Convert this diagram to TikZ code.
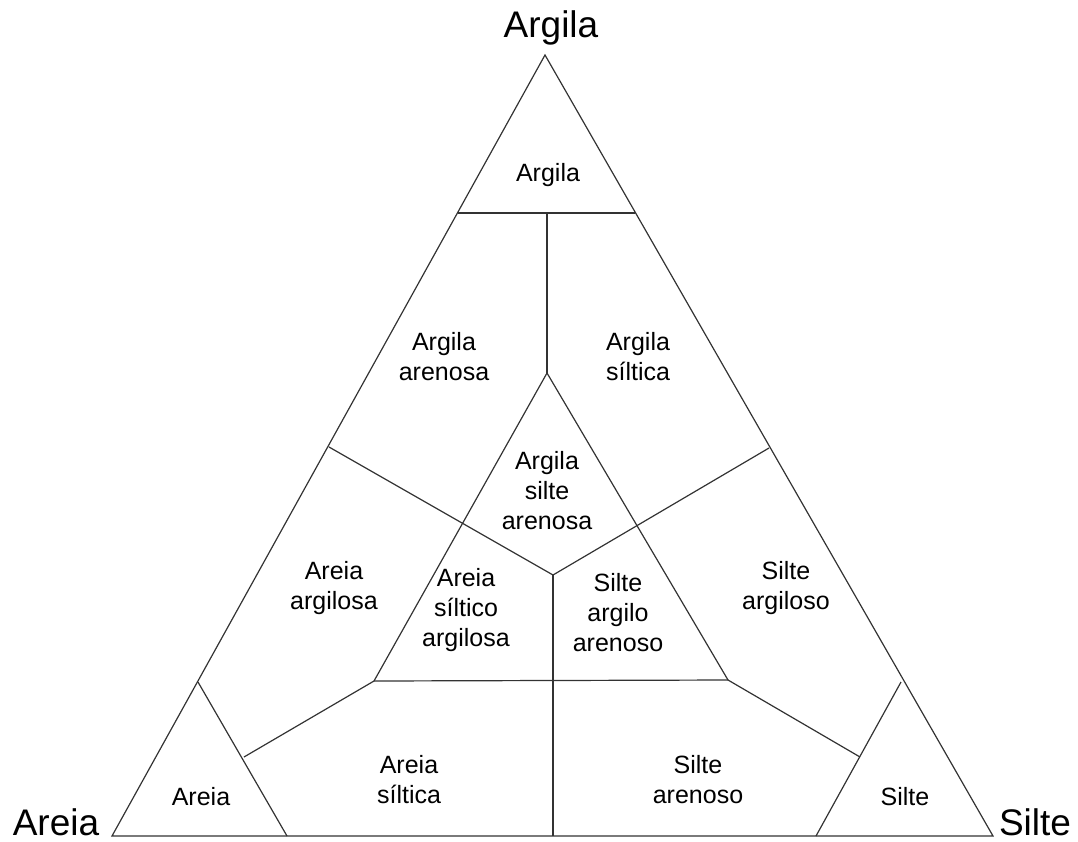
\documentclass[tikz,border=0pt]{standalone}
\usepackage{fontspec}
\setmainfont{Liberation Sans}
\begin{document}
\begin{tikzpicture}[x=1pt,y=-1pt,
  edge/.style={draw=black!80,line width=1.2pt,line join=miter},
  field/.style={align=center,font=\fontsize{25}{30}\selectfont,inner sep=0pt},
  corner/.style={anchor=base,font=\fontsize{37}{44}\selectfont,inner sep=0pt}]
\useasboundingbox (0,0) rectangle (1078,841);
% outer triangle
\coordinate (top) at (545,55);
\coordinate (bl) at (112,836);
\coordinate (br) at (993,836);
% clay corner
\coordinate (cl) at (458,213);
\coordinate (cr) at (635,213);
\coordinate (cm) at (547,213);
% inner points
\coordinate (capex) at (547,373);
\coordinate (j1) at (329,447);
\coordinate (j2) at (769,448);
\coordinate (mid) at (553,575);
\coordinate (midb) at (553,836);
\coordinate (bl2) at (374,681);
\coordinate (br2) at (728,680);
\coordinate (ll) at (244,757);
\coordinate (rr) at (860,757);
% sand and silt corners
\coordinate (sa) at (198,682);
\coordinate (sb) at (287,836);
\coordinate (ta) at (901,682);
\coordinate (tb) at (816,836);

\draw[edge] (top) -- (bl) -- (br) -- cycle;
\draw[edge] (cl) -- (cr);
\draw[edge] (cm) -- (capex);
\draw[edge] (bl2) -- (capex) -- (br2);
\draw[edge] (bl2) -- (br2);
\draw[edge] (j1) -- (mid) -- (j2);
\draw[edge] (mid) -- (midb);
\draw[edge] (bl2) -- (ll);
\draw[edge] (br2) -- (rr);
\draw[edge] (sa) -- (sb);
\draw[edge] (ta) -- (tb);

% corner names
\node[corner] (nArgila) at (551,37) {Argila};
\node[corner] (nAreia) at (56,835) {Areia};
\node[corner] (nSilte) at (1035,835) {Silte};

% field names
\node[field] (f1) at (548,175) {Argila};
\node[field] (f2) at (444,357) {Argila\\arenosa};
\node[field] (f3) at (638,357) {Argila\\síltica};
\node[field] (f4) at (547,491) {Argila\\silte\\arenosa};
\node[field] (f5) at (334,588) {Areia\\argilosa};
\node[field] (f6) at (466,610) {Areia\\síltico\\argilosa};
\node[field] (f7) at (618,613) {Silte\\argilo\\arenoso};
\node[field] (f8) at (786,588) {Silte\\argiloso};
\node[field] (f9) at (409,780) {Areia\\síltica};
\node[field] (f10) at (698,780) {Silte\\arenoso};
\node[field] (f11) at (201,797) {Areia};
\node[field] (f12) at (905,797) {Silte};
\end{tikzpicture}
\end{document}
